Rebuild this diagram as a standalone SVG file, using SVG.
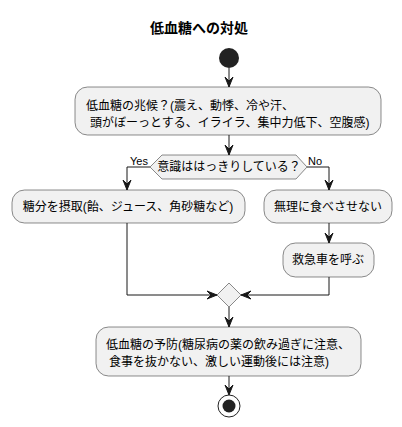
<svg xmlns="http://www.w3.org/2000/svg" width="402" height="427" viewBox="0 0 402 427">
<style>
text{font-family:"Liberation Sans","Noto Sans CJK JP",sans-serif;fill:#000;}
.t{font-size:12px;}
.c{text-anchor:middle;}
.title{font-size:14px;font-weight:bold;text-anchor:middle;}
.lbl{font-size:11px;}
.box{fill:#F1F1F1;stroke:#181818;stroke-width:0.5;}
.ln{fill:none;stroke:#181818;stroke-width:1;}
.ah{fill:#181818;stroke:#181818;stroke-width:1;}
</style>
<defs>
<polygon id="ad" points="-4,-10 0,0 4,-10 0,-6"/>
<polygon id="ar" points="-10,-4 0,0 -10,4 -6,0"/>
<polygon id="al" points="10,-4 0,0 10,4 6,0"/>
</defs>
<text class="title" x="199" y="33">低血糖への対処</text>
<g id="connectors">
<line class="ln" x1="229" y1="68" x2="229" y2="87"/>
<use href="#ad" class="ah" x="229" y="87"/>
<line class="ln" x1="229" y1="135" x2="229" y2="155"/>
<use href="#ad" class="ah" x="229" y="155"/>
<polyline class="ln" points="150,167 127,167 127,190"/>
<use href="#ad" class="ah" x="127" y="190"/>
<text class="lbl" x="130" y="165">Yes</text>
<polyline class="ln" points="307,167 329,167 329,190"/>
<use href="#ad" class="ah" x="329" y="190"/>
<text class="lbl" x="308" y="165">No</text>
<line class="ln" x1="329" y1="223" x2="329" y2="243"/>
<use href="#ad" class="ah" x="329" y="243"/>
<polyline class="ln" points="127,223 127,295 217,295"/>
<use href="#ar" class="ah" x="217" y="295"/>
<polyline class="ln" points="329,277 329,295 241,295"/>
<use href="#al" class="ah" x="241" y="295"/>
<line class="ln" x1="229" y1="307" x2="229" y2="327"/>
<use href="#ad" class="ah" x="229" y="327"/>
<line class="ln" x1="229" y1="376" x2="229" y2="395"/>
<use href="#ad" class="ah" x="229" y="395"/>
</g>
<g id="start"><circle cx="229" cy="58" r="10" fill="#222222"/></g>
<g id="symptoms">
<rect class="box" x="75" y="87" width="306" height="48" rx="12.5"/>
<text class="t" x="86" y="110">低血糖の兆候？(震え、動悸、冷や汗、</text>
<text class="t" x="90" y="127">頭がぼーっとする、イライラ、集中力低下、空腹感)</text>
</g>
<g id="decision">
<polygon class="box" points="150,167 162,155 296,155 307,167 296,179 162,179"/>
<text class="t c" x="229" y="171">意識ははっきりしている？</text>
</g>
<g id="sugar">
<rect class="box" x="12" y="190" width="233" height="33" rx="12.5"/>
<text class="t c" x="128" y="211">糖分を摂取(飴、ジュース、角砂糖など)</text>
</g>
<g id="nofeed">
<rect class="box" x="264" y="190" width="128" height="33" rx="12.5"/>
<text class="t c" x="328" y="211">無理に食べさせない</text>
</g>
<g id="ambulance">
<rect class="box" x="283" y="243" width="91" height="34" rx="12.5"/>
<text class="t c" x="328" y="264">救急車を呼ぶ</text>
</g>
<g id="merge">
<polygon class="box" points="229,283 241,295 229,307 217,295"/>
</g>
<g id="prevent">
<rect class="box" x="96" y="327" width="265" height="49" rx="12.5"/>
<text class="t" x="106" y="349">低血糖の予防(糖尿病の薬の飲み過ぎに注意、</text>
<text class="t" x="109" y="366">食事を抜かない、激しい運動後には注意)</text>
</g>
<g id="end">
<circle cx="229" cy="406" r="11" fill="none" stroke="#222222" stroke-width="1"/>
<circle cx="229" cy="406" r="6.5" fill="#222222"/>
</g>
</svg>
